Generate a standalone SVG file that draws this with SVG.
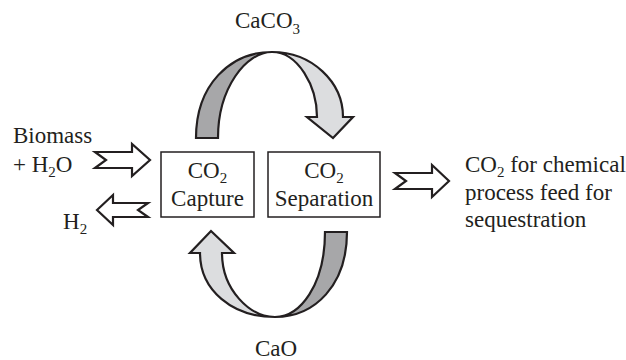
<svg xmlns="http://www.w3.org/2000/svg" width="626" height="360" viewBox="0 0 626 360">
<style>
text{font-family:"Liberation Serif","Times New Roman",serif;font-size:23px;fill:#231f20}
.sub{font-size:15px}
.box{fill:#fff;stroke:#231f20;stroke-width:1.5}
.hollow{fill:#fff;stroke:#231f20;stroke-width:2.2;stroke-linejoin:miter}
.dark{fill:#a7a7a9;stroke:#231f20;stroke-width:2.2;stroke-linejoin:miter}
.light{fill:#dcdddf;stroke:#231f20;stroke-width:2.2;stroke-linejoin:miter}
</style>
<rect width="626" height="360" fill="#fff"/>
<g id="connectors">
  <g id="cycle-top">
    <path class="dark" d="M196,138 C196,85 230,52 272,52 C246,52 218,88 218,138 Z"/>
    <path class="light" d="M272,52 C312,52 343,82 343,117 L353,117 L333,138 L307,117 L317,117 C317,86 298,52 272,52 Z"/>
  </g>
  <g id="cycle-bottom">
    <path class="dark" d="M347,232 C347,285 315,317 275,317 C300,317 325,285 325,232 Z"/>
    <path class="light" d="M275,317 C232,317 200,290 200,253 L190,253 L211,231 L234,253 L222,253 C222,290 250,317 275,317 Z"/>
  </g>
  <path id="arrow-in" class="hollow" d="M95,152 L132,152 L132,144 L150,160 L132,176 L132,168 L95,168 L106,160 Z"/>
  <path id="arrow-h2" class="hollow" d="M97,210 L113,195 L113,203 L148,203 L138,210 L148,217 L113,217 L113,225 Z"/>
  <path id="arrow-out" class="hollow" d="M395,173 L432,173 L432,165 L449,181 L432,197 L432,189 L395,189 L406,181 Z"/>
</g>
<g id="capture">
  <rect class="box" x="161" y="152" width="93" height="65"/>
  <text x="207.5" y="178" text-anchor="middle">CO<tspan class="sub" dy="5">2</tspan></text>
  <text x="207.5" y="206" text-anchor="middle">Capture</text>
</g>
<g id="separation">
  <rect class="box" x="268" y="152" width="112" height="65"/>
  <text x="324" y="178" text-anchor="middle">CO<tspan class="sub" dy="5">2</tspan></text>
  <text x="324" y="206" text-anchor="middle">Separation</text>
</g>
<g id="label-caco3"><text x="235" y="28">CaCO<tspan class="sub" dy="6">3</tspan></text></g>
<g id="label-cao"><text x="255" y="356">CaO</text></g>
<g id="label-biomass">
  <text x="13" y="143">Biomass</text>
  <text x="13" y="172">+ H<tspan class="sub" dy="5">2</tspan><tspan dy="-5">O</tspan></text>
</g>
<g id="label-h2"><text x="63" y="229">H<tspan class="sub" dy="5">2</tspan></text></g>
<g id="label-output">
  <text x="465" y="172">CO<tspan class="sub" dy="5">2</tspan><tspan dy="-5"> for chemical</tspan></text>
  <text x="465" y="200">process feed for</text>
  <text x="465" y="227">sequestration</text>
</g>
</svg>
